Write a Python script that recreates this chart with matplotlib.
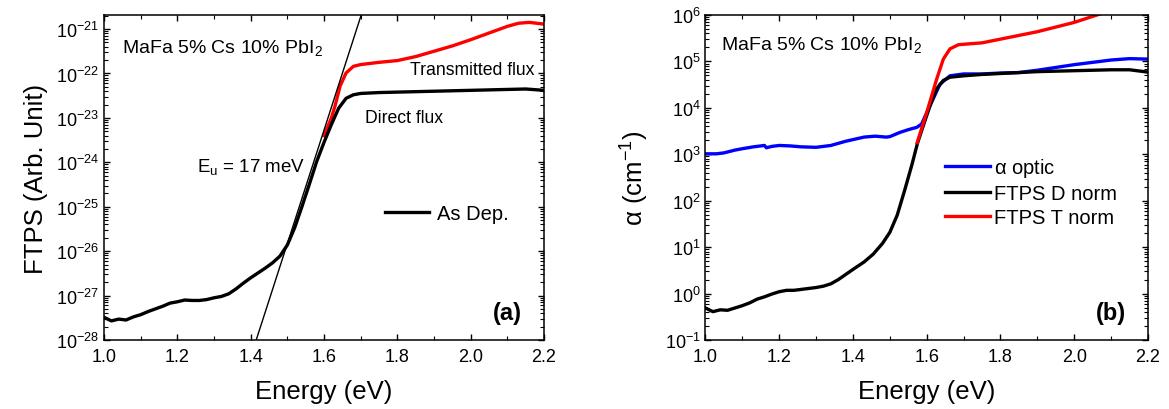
import numpy as np
import matplotlib
matplotlib.use("Agg")
import matplotlib.pyplot as plt
from matplotlib.ticker import LogLocator, MultipleLocator, NullFormatter, FixedLocator

plt.rcParams['font.family'] = ['Liberation Sans', 'DejaVu Sans']
plt.rcParams['mathtext.fontset'] = 'custom'
plt.rcParams['mathtext.rm'] = 'Liberation Sans'
plt.rcParams['mathtext.it'] = 'Liberation Sans:italic'
plt.rcParams['mathtext.bf'] = 'Liberation Sans:bold'
plt.rcParams['mathtext.default'] = 'regular'

# ---- panel (a): FTPS spectra, values are log10 of the signal
e_direct = [1.00, 1.02, 1.04, 1.06, 1.08, 1.10, 1.12, 1.14, 1.16, 1.18, 1.20,
            1.22, 1.24, 1.26, 1.28, 1.30, 1.32, 1.34, 1.36, 1.38, 1.40, 1.42,
            1.44, 1.46, 1.48, 1.50, 1.52, 1.54, 1.56, 1.58, 1.60, 1.62, 1.64,
            1.66, 1.68, 1.70, 1.75, 1.80, 1.90, 2.00, 2.10, 2.15, 2.20]
log_direct = [-27.49, -27.57, -27.53, -27.55, -27.48, -27.43, -27.36, -27.30,
              -27.24, -27.17, -27.14, -27.10, -27.11, -27.11, -27.09, -27.05,
              -27.02, -26.96, -26.85, -26.72, -26.60, -26.49, -26.38, -26.26,
              -26.11, -25.86, -25.47, -24.99, -24.49, -23.98, -23.55, -23.15,
              -22.78, -22.56, -22.48, -22.45, -22.43, -22.42, -22.40, -22.38,
              -22.36, -22.35, -22.38]

e_trans = [1.60, 1.62, 1.63, 1.644, 1.66, 1.68, 1.70, 1.75, 1.80, 1.85, 1.90,
           1.95, 2.00, 2.05, 2.10, 2.13, 2.16, 2.20]
log_trans = [-23.40, -23.00, -22.73, -22.28, -21.99, -21.84, -21.80, -21.75,
             -21.71, -21.62, -21.50, -21.38, -21.24, -21.09, -20.94, -20.87,
             -20.85, -20.89]

# Urbach fit: slope set by Eu, anchor where line hits 1e-28
urbach_eu = 0.017
urbach_e0 = 1.415
urbach_log0 = -28.0
e_fit = [1.40, 1.72]

# ---- panel (b): absorption coefficient, log10(alpha / cm^-1)
e_optic = [1.00, 1.03, 1.05, 1.08, 1.10, 1.13, 1.16, 1.165, 1.18, 1.20, 1.23,
           1.26, 1.30, 1.34, 1.38, 1.43, 1.46, 1.49, 1.50, 1.527, 1.55, 1.573,
           1.586, 1.609, 1.636, 1.663, 1.70, 1.75, 1.80, 1.85, 1.90, 1.95,
           2.00, 2.05, 2.10, 2.15, 2.20]
log_optic = [3.01, 3.01, 3.03, 3.09, 3.12, 3.16, 3.19, 3.14, 3.17, 3.19, 3.18,
             3.16, 3.15, 3.19, 3.28, 3.37, 3.39, 3.37, 3.38, 3.47, 3.53, 3.58,
             3.65, 4.05, 4.51, 4.69, 4.73, 4.73, 4.75, 4.76, 4.81, 4.87, 4.93,
             4.98, 5.03, 5.06, 5.05]

e_dnorm = [1.00, 1.02, 1.04, 1.06, 1.08, 1.10, 1.12, 1.14, 1.16, 1.18, 1.20,
           1.22, 1.24, 1.26, 1.28, 1.30, 1.32, 1.34, 1.36, 1.38, 1.40, 1.43,
           1.455, 1.48, 1.50, 1.52, 1.54, 1.56, 1.575, 1.59, 1.61, 1.627,
           1.645, 1.663, 1.70, 1.75, 1.80, 1.90, 2.00, 2.10, 2.15, 2.20]
log_dnorm = [-0.31, -0.39, -0.35, -0.36, -0.31, -0.26, -0.20, -0.12, -0.07,
             -0.01, 0.04, 0.07, 0.07, 0.09, 0.11, 0.13, 0.16, 0.21, 0.30,
             0.41, 0.52, 0.68, 0.85, 1.08, 1.32, 1.69, 2.22, 2.78, 3.24, 3.60,
             4.07, 4.41, 4.59, 4.66, 4.69, 4.72, 4.74, 4.78, 4.80, 4.82, 4.82,
             4.77]

e_tnorm = [1.574, 1.600, 1.627, 1.645, 1.663, 1.686, 1.717, 1.75, 1.80, 1.90,
           2.00, 2.05, 2.10, 2.15, 2.20]
log_tnorm = [3.25, 3.90, 4.62, 5.05, 5.27, 5.36, 5.38, 5.40, 5.48, 5.64, 5.84,
             5.97, 6.10, 6.17, 6.15]

sample = 'MaFa 5% Cs 10% PbI$_2$'
decades_a = range(-28, -20)
decades_b = range(-1, 7)


def style_axis(ax, ylo, yhi, decades):
    ax.set_xlim(1.0, 2.2)
    ax.set_yscale('log')
    ax.set_ylim(ylo, yhi)
    ax.xaxis.set_major_locator(MultipleLocator(0.2))
    ax.xaxis.set_minor_locator(MultipleLocator(0.1))
    ax.yaxis.set_major_locator(FixedLocator([10.0 ** k for k in decades]))
    ax.yaxis.set_minor_locator(LogLocator(base=10, subs=np.arange(2, 10), numticks=100))
    ax.yaxis.set_minor_formatter(NullFormatter())
    ax.tick_params(which='both', direction='in', top=True, right=True, labelsize=13)
    ax.tick_params(which='major', length=4.5, width=1)
    ax.tick_params(which='minor', length=3, width=0.8)
    ax.tick_params(axis='x', which='major', pad=6)
    for s in ax.spines.values():
        s.set_linewidth(1.1)
    ax.set_xlabel('Energy (eV)', fontsize=18.5, labelpad=10)


fig = plt.figure(figsize=(11.69, 4.10), dpi=100)
ax1 = fig.add_axes([0.0890, 0.1683, 0.3764, 0.7927])
ax2 = fig.add_axes([0.6035, 0.1683, 0.3785, 0.7927])

# panel (a)
ax1.plot(e_trans, 10.0 ** np.array(log_trans), color='red', lw=2.4)
ax1.plot(e_direct, 10.0 ** np.array(log_direct), color='black', lw=2.4, label='As Dep.')
fit = urbach_log0 + (np.array(e_fit) - urbach_e0) / urbach_eu / np.log(10)
ax1.plot(e_fit, 10.0 ** fit, color='black', lw=1)
style_axis(ax1, 1e-28, 2.07e-21, decades_a)
ax1.set_ylabel('FTPS (Arb. Unit)', fontsize=18.5, labelpad=6)
ax1.text(0.040, 0.886, sample, transform=ax1.transAxes, fontsize=14)
ax1.text(0.695, 0.818, 'Transmitted flux', transform=ax1.transAxes, fontsize=12.7)
ax1.text(0.592, 0.670, 'Direct flux', transform=ax1.transAxes, fontsize=12.7)
ax1.text(0.211, 0.521, 'E$_u$ = 17 meV', transform=ax1.transAxes, fontsize=13.5)
ax1.text(0.95, 0.065, '(a)', transform=ax1.transAxes, fontsize=17,
         fontweight='bold', ha='right')
ax1.legend(loc='center left', bbox_to_anchor=(0.6375, 0.39), frameon=False,
           fontsize=14.5, handlelength=2.2, handletextpad=0.4,
           borderpad=0, borderaxespad=0)

# panel (b)
ax2.plot(e_optic, 10.0 ** np.array(log_optic), color='#0000ff', lw=2.4, label=r'$\alpha$ optic')
ax2.plot(e_dnorm, 10.0 ** np.array(log_dnorm), color='black', lw=2.4, label='FTPS D norm')
ax2.plot(e_tnorm, 10.0 ** np.array(log_tnorm), color='red', lw=2.4, label='FTPS T norm')
style_axis(ax2, 1e-1, 1e6, decades_b)
ax2.set_ylabel(r'$\alpha$ (cm$^{-1}$)', fontsize=18.5, labelpad=10)
ax2.text(0.035, 0.895, sample, transform=ax2.transAxes, fontsize=14)
ax2.text(0.95, 0.065, '(b)', transform=ax2.transAxes, fontsize=17,
         fontweight='bold', ha='right')
ax2.legend(loc='upper left', bbox_to_anchor=(0.542, 0.565), frameon=False,
           fontsize=14.5, handlelength=2.2, handletextpad=0.2,
           labelspacing=0.25, borderpad=0, borderaxespad=0)

fig.savefig('out.png', dpi=100)
